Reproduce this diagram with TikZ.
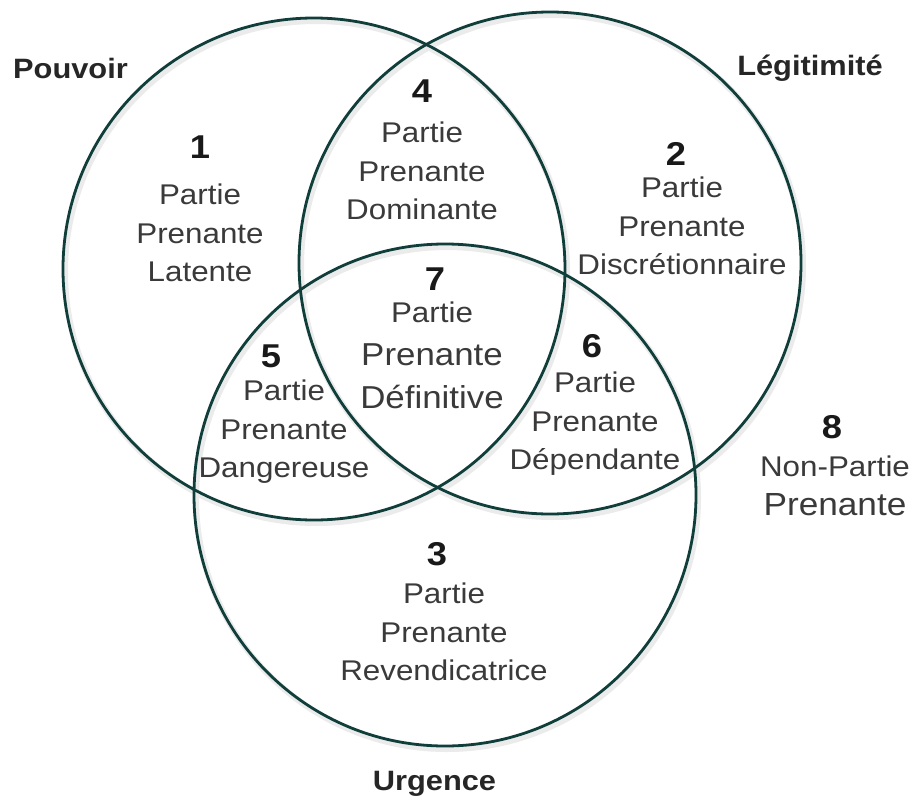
\documentclass[tikz,border=0pt]{standalone}
\usepackage{fontspec}
\setmainfont{Liberation Sans}[FakeStretch=1.1]
\usepackage{tikz}
\usetikzlibrary{positioning}
\definecolor{vennline}{RGB}{16,62,58}
\definecolor{venntext}{RGB}{58,58,58}

\begin{document}
\begin{tikzpicture}[x=1pt, y=-1pt,
    venn/.style={draw=vennline, line width=2.8pt, circle, minimum size=502pt, inner sep=0pt},
    vshade/.style={draw=black!8, line width=6pt, circle, minimum size=502pt, inner sep=0pt},
    num/.style={font=\fontsize{33}{33}\selectfont\bfseries, text=black!90, inner sep=0pt, anchor=base},
    txt/.style={font=\fontsize{28.5}{38.5}\selectfont, text=venntext, align=center, inner sep=0pt, anchor=north},
    ttl/.style={font=\fontsize{28}{28}\selectfont\bfseries, text=black!85, inner sep=0pt, anchor=base}
]
\useasboundingbox[fill=white] (0,0) rectangle (916,798);

% soft shadows
\node[vshade] (spouvoir) at (316,272) {};
\node[vshade] (slegit) at (552,266) {};
\node[vshade] (surgence) at (447,498) {};

% the three circles
\node[venn] (pouvoir) at (314,269) {};
\node[venn] (legit) at (550,263) {};
\node[venn] (urgence) at (445,495) {};

% titles
\node[ttl] (tpouvoir) at (70.5,78) {Pouvoir};
\node[ttl] (tlegit) at (810,75) {Légitimité};
\node[ttl] (turgence) at (434.5,790) {Urgence};

% regions
\node[num] (n1) at (200,158) {1};
\node[txt] (latente) at (200,184) {Partie\\Prenante\\Latente};

\node[num] (n2) at (676,165) {2};
\node[txt] (discr) at (682,177) {Partie\\Prenante\\Discrétionnaire};

\node[num] (n3) at (437,565) {3};
\node[txt] (revend) at (444,583) {Partie\\Prenante\\Revendicatrice};

\node[num] (n4) at (422,102) {4};
\node[txt] (domin) at (422,122) {Partie\\Prenante\\Dominante};

\node[num] (n5) at (271,367) {5};
\node[txt] (danger) at (284,380) {Partie\\Prenante\\Dangereuse};

\node[num] (n6) at (592,357) {6};
\node[txt] (depend) at (595,372) {Partie\\Prenante\\Dépendante};

\node[num] (n7) at (435,290) {7};
\node[txt, font=\fontsize{31.7}{43}\selectfont] (defin) at (432,302)
    {{\fontsize{28.5}{43}\selectfont Partie}\\Prenante\\Définitive};

\node[num] (n8) at (832,438) {8};
\node[txt, font=\fontsize{28.5}{39}\selectfont] (nonpp) at (835,456)
    {Non-Partie\\{\fontsize{32}{39}\selectfont Prenante}};
\end{tikzpicture}
\end{document}
